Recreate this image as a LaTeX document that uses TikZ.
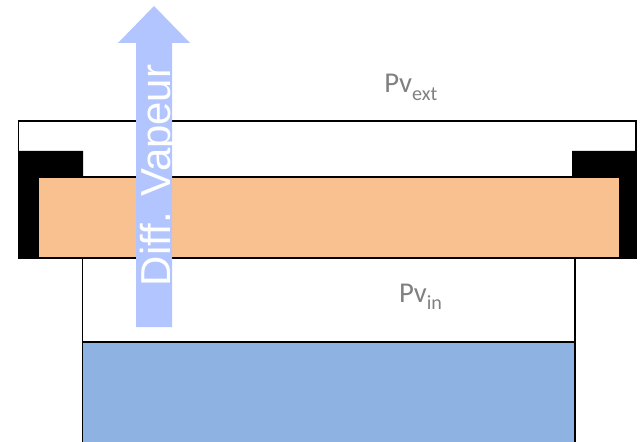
\documentclass[tikz,border=0pt]{standalone}
\usepackage{fontspec}
\setmainfont{Carlito}
\newfontfamily\arrowfont{Liberation Sans}
\usepackage{tikz}
\definecolor{insulation}{HTML}{F9C18F}
\definecolor{water}{HTML}{8EB3E2}
\definecolor{vapour}{HTML}{B2C5FE}
\definecolor{labelgray}{HTML}{808080}
\tikzset{wall/.style={draw=black,line width=1pt}}
\tikzset{pressure/.style={text=labelgray,font=\fontsize{20.4}{22}\selectfont,inner sep=0pt,anchor=base west}}
\newcommand{\pvsub}[1]{Pv\raisebox{-0.25em}{\fontsize{14.3}{15}\selectfont #1}}

\begin{document}
\begin{tikzpicture}
\useasboundingbox (0,0) rectangle (16,11.025);
\draw[wall] (0.4625,4.575) rectangle (15.9,8);
\fill[black] (0.4625,4.575) -- (0.4625,7.25) -- (2.075,7.25) -- (2.075,6.6) -- (0.95,6.6) -- (0.95,4.575) -- cycle;
\fill[black] (15.9,4.575) -- (15.9,7.25) -- (14.3,7.25) -- (14.3,6.6) -- (15.5,6.6) -- (15.5,4.575) -- cycle;
\draw[wall,fill=insulation] (0.95,4.575) rectangle (15.5,6.6);
\draw[wall] (2.0625,0) -- (2.0625,4.575);
\draw[wall] (14.375,0) -- (14.375,4.575);
\draw[wall,fill=water] (2.0625,-0.1) rectangle (14.375,2.475);
\fill[vapour] (3.4,2.85) -- (3.4,9.95) -- (2.95,9.95) -- (3.85,10.875) -- (4.75,9.95) -- (4.3,9.95) -- (4.3,2.85) -- cycle;
\node[rotate=90,anchor=base,text=white,inner sep=0pt,font=\arrowfont\fontsize{29.8}{31}\selectfont] (vapeur) at (4.25,6.64) {Diff. Vapeur};
\node[pressure] (pvext) at (9.6,8.7) {\pvsub{ext}};
\node[pressure] (pvin) at (9.97,3.47) {\pvsub{in}};
\end{tikzpicture}
\end{document}
